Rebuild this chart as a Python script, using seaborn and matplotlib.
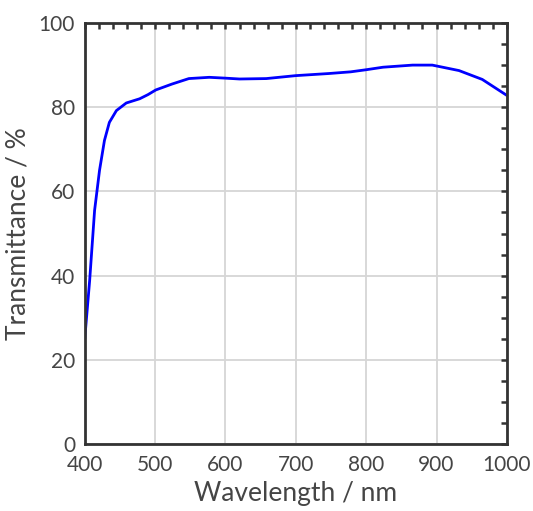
import numpy as np
import pandas as pd
import seaborn as sns
import matplotlib.pyplot as plt
from matplotlib.ticker import MultipleLocator

# transmittance spectrum
wavelength = [400, 407, 414, 421, 428, 435, 445, 459, 478, 490, 501, 524, 548, 577,
              600, 620, 658, 700, 747, 778, 800, 824, 866, 894, 932, 965, 1000]
transmittance = [25.0, 38.9, 55.5, 65.0, 72.1, 76.4, 79.2, 81.0, 82.0, 83.0, 84.1, 85.5,
                 86.8, 87.1, 86.9, 86.7, 86.8, 87.5, 88.0, 88.4, 88.9, 89.5, 90.0, 90.0,
                 88.7, 86.6, 82.8]

df = pd.DataFrame({'Wavelength': wavelength, 'Transmittance': transmittance})

sns.set_style('white')
plt.rcParams['font.family'] = ['Lato', 'DejaVu Sans']
txt = '#454545'

fig = plt.figure(figsize=(5.33, 5.11), dpi=100)
ax = fig.add_axes([0.159, 0.131, 0.792, 0.824])

sns.lineplot(data=df, x='Wavelength', y='Transmittance', color='#0000ff', lw=2.0, ax=ax)

ax.set_xlim(400, 1000)
ax.set_ylim(0, 100)
ax.xaxis.set_major_locator(MultipleLocator(100))
ax.xaxis.set_minor_locator(MultipleLocator(20))
ax.yaxis.set_major_locator(MultipleLocator(20))
ax.yaxis.set_minor_locator(MultipleLocator(5))
ax.grid(True, which='major', color='#d6d6d6', lw=1.3)
ax.set_axisbelow(True)
ax.tick_params(which='both', direction='in', top=True, right=True, color='#333333',
               labelsize=15, labelcolor=txt, length=4, width=1.8)
ax.tick_params(axis='x', pad=8)
ax.tick_params(axis='y', pad=7)
for s in ax.spines.values():
    s.set_color('#333333')
    s.set_linewidth(2.0)

ax.set_xlabel('Wavelength / nm', fontsize=19, color=txt, labelpad=4)
ax.set_ylabel('Transmittance / %', fontsize=19, color=txt, labelpad=6)

fig.savefig('out.png', dpi=100)
